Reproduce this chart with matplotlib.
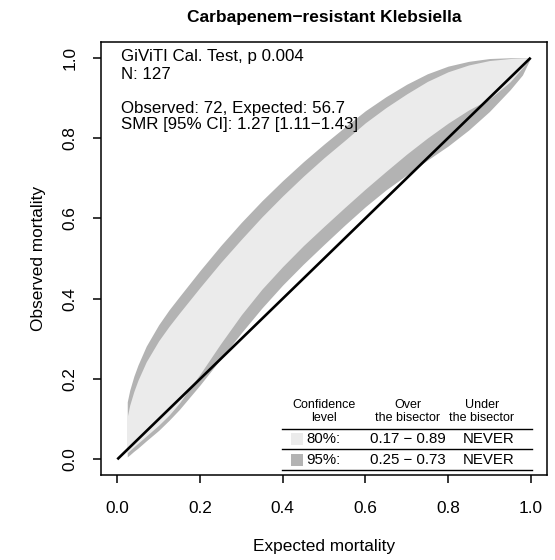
import numpy as np
import matplotlib
matplotlib.use("Agg")
import matplotlib.pyplot as plt
from matplotlib.patches import Rectangle

plt.rcParams['font.family'] = ['Liberation Sans', 'DejaVu Sans']

# ---- data ----
title = "Carbapenem\u2212resistant Klebsiella"
xlabel = "Expected mortality"
ylabel = "Observed mortality"

belt_x = [0.024, 0.03, 0.04, 0.05, 0.07, 0.1, 0.125, 0.15, 0.2, 0.25, 0.3, 0.35, 0.4,
          0.45, 0.5, 0.55, 0.6, 0.65, 0.7, 0.75, 0.8, 0.85, 0.9, 0.95, 0.98, 1.0]
upper95 = [0.143, 0.172, 0.207, 0.235, 0.282, 0.335, 0.372, 0.405, 0.470, 0.532, 0.590, 0.644,
           0.694, 0.741, 0.785, 0.827, 0.868, 0.903, 0.934, 0.960, 0.979, 0.991, 0.998, 1.0,
           1.0, 1.0]
upper80 = [0.106, 0.135, 0.169, 0.197, 0.243, 0.295, 0.331, 0.364, 0.428, 0.490, 0.548, 0.604,
           0.656, 0.705, 0.751, 0.794, 0.838, 0.876, 0.910, 0.941, 0.965, 0.982, 0.993, 0.998,
           0.9995, 1.0]
lower80 = [0.016, 0.022, 0.031, 0.040, 0.058, 0.085, 0.110, 0.140, 0.212, 0.288, 0.360, 0.424,
           0.480, 0.532, 0.580, 0.627, 0.673, 0.717, 0.760, 0.800, 0.837, 0.870, 0.897, 0.940,
           0.975, 1.0]
lower95 = [0.006, 0.011, 0.020, 0.028, 0.046, 0.072, 0.097, 0.124, 0.185, 0.250, 0.315, 0.377,
           0.434, 0.486, 0.535, 0.583, 0.629, 0.671, 0.708, 0.745, 0.780, 0.820, 0.866, 0.920,
           0.957, 1.0]

info_lines = ["GiViTI Cal. Test, p 0.004", "N: 127",
              "Observed: 72, Expected: 56.7", "SMR [95% CI]: 1.27 [1.11\u22121.43]"]

tbl_headers = ["Confidence\nlevel", "Over\nthe bisector", "Under\nthe bisector"]
tbl_levels = ["80%:", "95%:"]
tbl_over = ["0.17 \u2212 0.89", "0.25 \u2212 0.73"]
tbl_under = ["NEVER", "NEVER"]

ticks = [0.0, 0.2, 0.4, 0.6, 0.8, 1.0]
tick_labels = ["0.0", "0.2", "0.4", "0.6", "0.8", "1.0"]

c80 = "#ebebeb"
c95 = "#b3b3b3"

fig = plt.figure(figsize=(5.55, 5.6), dpi=100)
ax = fig.add_axes([0.1816, 0.1511, 0.8044, 0.7745])
ax.set_xlim(-0.04, 1.04)
ax.set_ylim(-0.04, 1.04)

ax.fill_between(belt_x, lower95, upper95, color=c95, lw=0)
ax.fill_between(belt_x, lower80, upper80, color=c80, lw=0)
ax.plot([0, 1], [0, 1], color="black", lw=1.9, solid_capstyle="butt")

for s in ax.spines.values():
    s.set_linewidth(1.1)
ax.set_xticks(ticks)
ax.set_xticklabels(tick_labels)
ax.set_yticks(ticks)
ax.set_yticklabels(tick_labels, rotation=90, va="center")
ax.tick_params(direction="out", length=5.5, width=1.1, labelsize=12.4)
ax.tick_params(axis="x", pad=13)
ax.tick_params(axis="y", pad=11)

fs = 12.2
ys = [1.003, 0.957, 0.874, 0.833]
for t, yy in zip(info_lines, ys):
    ax.text(0.008, yy, t, ha="left", va="center", fontsize=fs)

# table
hx = [0.499, 0.702, 0.882]
for t, xx in zip(tbl_headers, hx):
    ax.text(xx, 0.119, t, ha="center", va="center", fontsize=9, linespacing=1.05)
for yy in [0.075, 0.025, -0.027]:
    ax.plot([0.398, 1.002], [yy, yy], color="black", lw=1.0)
row_y = [0.050, -0.002]
for lab, ov, un, yy, col in zip(tbl_levels, tbl_over, tbl_under, row_y, [c80, c95]):
    ax.add_patch(Rectangle((0.42, yy - 0.015), 0.03, 0.031, color=col, lw=0))
    ax.text(0.457, yy, lab, ha="left", va="center", fontsize=10.8)
    ax.text(0.702, yy, ov, ha="center", va="center", fontsize=10.8)
    ax.text(0.899, yy, un, ha="center", va="center", fontsize=10.8)

fig.text(0.5838, 0.968, title, ha="center", va="center", fontsize=12.5, fontweight="bold")
fig.text(0.5838, 0.024, xlabel, ha="center", va="center", fontsize=12.4)
fig.text(0.0685, 0.538, ylabel, ha="center", va="center", fontsize=12.4, rotation=90)

fig.savefig("out.png", dpi=100)
